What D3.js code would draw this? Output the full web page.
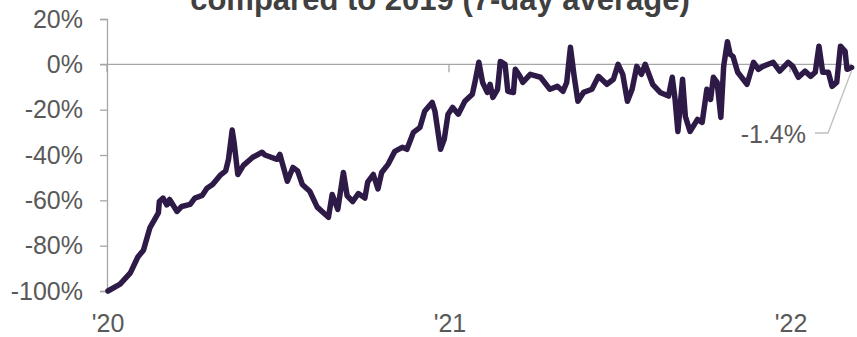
<!DOCTYPE html>
<html>
<head>
<meta charset="utf-8">
<script src="https://cdn.jsdelivr.net/npm/d3@7"></script>
<style>
  body { margin: 0; background: #fff; }
  svg text { font-family: "Liberation Sans", Arial, sans-serif; }
</style>
</head>
<body>
<svg id="chart" width="857" height="337"></svg>
<script>
// days since 1 Jan 2020
const dayOffsets = [
  1, 14, 25, 33, 39, 46, 55, 56, 60, 64, 67, 75, 80, 89, 94, 102, 107, 113, 121, 127,
  130, 134, 136, 140, 146, 156, 166, 169, 182, 185, 193, 199, 204, 209, 217, 225, 237, 241, 247, 253,
  257, 263, 269, 276, 279, 285, 290, 294, 301, 308, 316, 321, 328, 335, 340, 348, 351, 357, 361, 365,
  370, 376, 383, 391, 394, 398, 402, 407, 410, 413, 418, 421, 426, 429, 435, 437, 442, 445, 453, 464,
  474, 482, 488, 492, 496, 500, 504, 510, 519, 526, 535, 542, 547, 552, 557, 562, 567, 572, 576, 584,
  592, 601, 605, 608, 611, 616, 619, 624, 632, 637, 642, 646, 649, 653, 657, 660, 664, 667, 670, 675,
  685, 692, 697, 702, 713, 720, 729, 734, 740, 747, 753, 758, 762, 766, 772, 776, 781, 785, 790, 792,
  797
];
// % change vs 2019, 7-day average
const values = [
  -100, -97, -92, -85, -82, -72, -65.5, -60.5, -59, -62, -59.6, -64.9, -62.7, -61.8, -59, -57.8, -54.7, -53, -49, -47,
  -42, -29, -34.4, -48.6, -44.6, -41, -38.8, -40, -41.9, -39.7, -51.6, -45.5, -47, -53, -56, -63, -67.5, -57.4, -64, -47.7,
  -58, -60.5, -57, -59, -52, -48.6, -55, -47.7, -44, -38.4, -36.6, -37.5, -30, -27.8, -20.7, -16.8, -20.7, -37.5, -33, -22,
  -19, -22, -16.3, -13.2, -7.5, 0.9, -8, -12.4, -8.8, -14.6, -11, 1.3, 0, -11.9, -12.4, -2.2, -5.3, -8, -4.4, -5.7,
  -11, -9.7, -11.9, -8, 7.5, -5.3, -16.3, -12.4, -11, -5.3, -8.8, -6.6, 0, -4.4, -16.3, -11, -0.9, -4.4, 0, -8.8,
  -12.4, -14, -5.7, -15.5, -29.6, -6.6, -23, -29.6, -24.3, -25.6, -11, -15.5, -5.7, -8, -23.4, -0.9, 10, 4.4, 3.5, -3.5,
  -8.8, 0.9, -2.2, -0.9, 0.9, -3, 0.9, -0.9, -5.7, -3, -5.3, -3.5, 8, -3.5, -3.5, -9.7, -8, 8, 5.7, -2.2,
  -1.4
];
const yTicks = [20, 0, -20, -40, -60, -80, -100];
const xTickYears = [2020, 2021, 2022];
const xTickLabels = ["'20", "'21", "'22"];
const titleText = "compared to 2019 (7-day average)";

const start = new Date(2020, 0, 1);
const data = dayOffsets.map((d, i) => ({ date: d3.timeDay.offset(start, d), value: values[i] }));

const svg = d3.select("#chart");

const x = d3.scaleTime()
  .domain([new Date(2020, 0, 1), new Date(2022, 0, 1)])
  .range([107, 790]);
const y = d3.scaleLinear().domain([-100, 20]).range([291, 19]);

const axisGrey = "#a6a6a6";
const textGrey = "#595959";
const pct = v => (v < 0 ? "-" : "") + Math.abs(v) + "%";

// title (top is clipped in the original)
svg.append("text")
  .attr("x", 440).attr("y", 10)
  .attr("text-anchor", "middle")
  .attr("font-size", 31).attr("font-weight", "bold")
  .attr("fill", "#404040")
  .text(titleText);

// y axis
const yAxis = svg.append("g").attr("transform", "translate(107,0)")
  .call(d3.axisLeft(y).tickValues(yTicks).tickSize(7).tickPadding(17).tickFormat(pct));
yAxis.select(".domain").attr("stroke", axisGrey).attr("stroke-width", 1.3);
yAxis.selectAll(".tick line").attr("stroke", axisGrey).attr("stroke-width", 1.3);
yAxis.selectAll(".tick text").attr("font-size", 25).attr("fill", textGrey).attr("font-family", null);

// zero line with year ticks
const zeroY = y(0);
svg.append("line")
  .attr("x1", 100).attr("x2", x(d3.max(data, d => d.date)))
  .attr("y1", zeroY).attr("y2", zeroY)
  .attr("stroke", axisGrey).attr("stroke-width", 1.3);

const xTicks = xTickYears.map(yr => new Date(yr, 0, 1));
svg.append("g").selectAll("line").data(xTicks).join("line")
  .attr("x1", d => x(d)).attr("x2", d => x(d))
  .attr("y1", zeroY).attr("y2", zeroY + 8)
  .attr("stroke", axisGrey).attr("stroke-width", 1.3);

svg.append("g").selectAll("text").data(xTicks).join("text")
  .attr("x", d => x(d) + 1).attr("y", 332)
  .attr("text-anchor", "middle")
  .attr("font-size", 25).attr("fill", textGrey)
  .text((d, i) => xTickLabels[i]);

// series
const line = d3.line().x(d => x(d.date)).y(d => y(d.value));
svg.append("path")
  .datum(data)
  .attr("fill", "none")
  .attr("stroke", "#2e1a47")
  .attr("stroke-width", 5.5)
  .attr("stroke-linejoin", "round")
  .attr("stroke-linecap", "round")
  .attr("d", line);

// last value callout
const last = data[data.length - 1];
svg.append("polyline")
  .attr("points", [[815, 133], [828, 133], [x(last.date), y(last.value) + 3]].join(" "))
  .attr("fill", "none").attr("stroke", "#bfbfbf").attr("stroke-width", 1.3);
svg.append("text")
  .attr("x", 806).attr("y", 143)
  .attr("text-anchor", "end")
  .attr("font-size", 25).attr("fill", textGrey)
  .text(pct(last.value));
</script>
</body>
</html>
